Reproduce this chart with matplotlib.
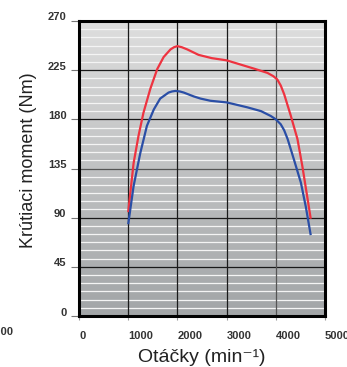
import numpy as np
import matplotlib
matplotlib.use("Agg")
import matplotlib.pyplot as plt
from matplotlib.transforms import ScaledTranslation

# ---- data ----
red_rpm = [1000, 1110, 1210, 1310, 1450, 1590, 1720, 1860, 1930, 2000, 2090, 2200, 2430, 2700,
           3000, 3220, 3550, 3830, 3950, 4030, 4100, 4170, 4300, 4440, 4540, 4650, 4710]
red_torque = [95, 140, 165, 186, 208, 226, 237, 244, 246, 247, 246, 244, 239, 236,
              234, 231, 226.5, 222.5, 219.5, 216.5, 211, 203, 184, 162, 137, 106, 89]

blue_rpm = [1000, 1110, 1245, 1380, 1520, 1650, 1820, 1890, 1960, 2050, 2130, 2330, 2470, 2670,
            3000, 3420, 3700, 3900, 4000, 4100, 4170, 4240, 4370, 4510, 4610, 4710]
blue_torque = [84, 119, 149, 174, 189, 199, 204.5, 205.5, 206, 205.5, 204.5, 201, 199, 197,
               195.5, 191, 187.5, 183, 180, 175.5, 170, 162, 143, 122, 100, 74]

x_ticks = [0, 1000, 2000, 3000, 4000, 5000]
x_ticklabels = ["0", "1000", "2000", "3000", "4000", "5000"]
y_ticks = [0, 45, 90, 135, 180, 225, 270]
y_ticklabels = ["0", "45", "90", "135", "180", "225", "270"]
minor_step = 7.5

plt.rcParams['font.family'] = ['Liberation Sans', 'DejaVu Sans']

fig = plt.figure(figsize=(3.47, 3.67), dpi=100)
W, H = 347, 367
ax = fig.add_axes([79 / W, 1 - 316 / H, 246 / W, 295 / H])
ax.set_xlim(0, 5000)
ax.set_ylim(0, 270)

# gradient background
grad = np.linspace(0, 1, 256).reshape(-1, 1)
top = np.array([222, 222, 222]) / 255
bot = np.array([162, 165, 167]) / 255
img = top[None, None, :] * (1 - grad[:, :, None]) + bot[None, None, :] * grad[:, :, None]
ax.imshow(img, extent=[0, 5000, 0, 270], aspect='auto', origin='upper', zorder=0)

# minor white lines
for v in np.arange(0, 270 + 0.01, minor_step):
    if abs(v / 45 - round(v / 45)) > 1e-6:
        ax.axhline(v, color='#f4f4f4', lw=0.9, zorder=1)
# major lines
for v in y_ticks[1:-1]:
    ax.axhline(v, color='#555555' if v == 135 else '#1a1a1a', lw=0.9, zorder=2)
for v in x_ticks[1:-1]:
    ax.axvline(v, color='#555555' if v == 4000 else '#1a1a1a', lw=0.9, zorder=2)

ax.plot(red_rpm, red_torque, color='#ee3340', lw=1.6, zorder=3,
        solid_joinstyle='round', solid_capstyle='butt')
ax.plot(blue_rpm, blue_torque, color='#2a4ea6', lw=1.6, zorder=4,
        solid_joinstyle='round', solid_capstyle='butt')

for s in ax.spines.values():
    s.set_linewidth(2.2)
    s.set_color('black')
    s.set_zorder(5)

ax.set_xticks(x_ticks)
ax.set_xticklabels(x_ticklabels, fontsize=8, fontweight='bold', color='#333333')
ax.set_yticks(y_ticks)
ax.set_yticklabels(y_ticklabels, fontsize=8, fontweight='bold', color='#333333')
ax.tick_params(axis='y', length=6, width=0.8, color='#777777', pad=3)
ax.tick_params(axis='x', length=3, width=0.8, color='#999999', pad=8)
for lab in ax.get_xticklabels():
    lab.set_ha('left')
up = ScaledTranslation(0, 4.5 / 100, fig.dpi_scale_trans)
for lab in ax.get_yticklabels():
    lab.set_transform(lab.get_transform() + up)

fig.text(29 / W, 1 - 160 / H, "Krútiaci moment (Nm)", rotation=90,
         fontsize=13, ha='center', va='center', color='#222222')
fig.text(202 / W, 1 - 357 / H, "Otáčky (min\u207b\u00b9)",
         fontsize=14, ha='center', va='center', color='#222222')
# cut-off label from neighbouring chart
fig.text(14 / W, 1 - 332 / H, "5000", fontsize=8, fontweight='bold',
         ha='right', va='center', color='#333333')

fig.savefig("out.png", dpi=100)
